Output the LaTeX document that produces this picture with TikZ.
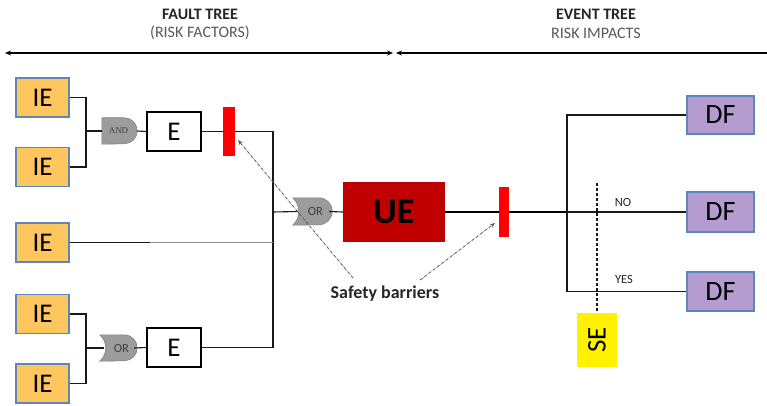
\documentclass[tikz,border=0pt]{standalone}
\usepackage{fontspec}
\setmainfont{Carlito}
\newfontfamily\gateserif{Liberation Serif}
\usetikzlibrary{arrows.meta,calc}
\definecolor{ieorange}{HTML}{FFC65E}
\definecolor{boxblue}{HTML}{5E87B8}
\definecolor{dfpurple}{HTML}{B49BD0}
\definecolor{uered}{HTML}{C00000}
\definecolor{gategray}{HTML}{9C9C9C}
\definecolor{gateedge}{HTML}{7F7F7F}
\definecolor{subgray}{HTML}{595959}
\tikzset{
  iebox/.style={draw=boxblue, line width=1.1pt, fill=ieorange, minimum width=53pt, minimum height=39pt, inner sep=0pt, font=\fontsize{27}{27}\selectfont},
  ebox/.style={draw=black, line width=1.1pt, fill=white, minimum width=54pt, minimum height=39pt, inner sep=0pt, font=\fontsize{27}{27}\selectfont},
  dfbox/.style={draw=boxblue, line width=1.1pt, fill=dfpurple, minimum width=67pt, minimum height=39pt, inner sep=0pt, font=\fontsize{28}{28}\selectfont},
  uebox/.style={fill=uered, minimum width=102pt, minimum height=60pt, inner sep=0pt, font=\fontsize{36}{36}\selectfont\bfseries},
  sebox/.style={fill=yellow, minimum width=40pt, minimum height=54pt, inner sep=0pt},
  redbar/.style={fill=red, inner sep=0pt},
  gatenode/.style={inner sep=0pt, minimum height=26pt, text=black!75},
  gateshape/.style={fill=gategray, draw=gateedge, line width=0.6pt},
  conn/.style={line width=1.1pt, black!90},
  thickconn/.style={line width=2.4pt, black},
  headarrow/.style={line width=1.5pt, {Stealth[length=6pt,width=5pt]}-{Stealth[length=6pt,width=5pt]}},
  headarrowl/.style={line width=1.5pt, {Stealth[length=6pt,width=5pt]}-},
  barrier/.style={densely dashdotted, line width=0.8pt, black!65, -{Stealth[length=5pt,width=4pt]}},
  headtitle/.style={font=\fontsize{16}{16}\selectfont\bfseries, text=black!85},
  headsub/.style={font=\fontsize{16}{16}\selectfont, text=subgray},
  branchlabel/.style={font=\fontsize{12.5}{12.5}\selectfont, text=black!85},
}
\begin{document}
\begin{tikzpicture}[x=1pt,y=1pt]
\useasboundingbox (0,0) rectangle (767,-406);
\fill[white] (0,0) rectangle (767,-406);

% headers
\node[headtitle] (ft) at (200,-14) {FAULT TREE};
\node[headsub] (rf) at (200,-33) {(RISK FACTORS)};
\node[headtitle] (et) at (596,-14) {EVENT TREE};
\node[headsub] (ri) at (596,-33) {RISK IMPACTS};
\coordinate (ha1) at (5,-53);
\coordinate (ha2) at (393,-53);
\coordinate (hb1) at (396,-53);
\coordinate (hb2) at (767,-53);
\draw[headarrow] (ha1) -- (ha2);
\draw[headarrowl] (hb1) -- (hb2);

% initiating events
\node[iebox] (ie1) at (42.5,-97.5) {IE};
\node[iebox] (ie2) at (42.5,-167) {IE};
\node[iebox] (ie3) at (42.5,-242.5) {IE};
\node[iebox] (ie4) at (42.5,-314) {IE};
\node[iebox] (ie5) at (42.5,-383.5) {IE};

% AND gate
\node[gatenode, minimum width=35pt] (and) at (119.5,-131) {};
\fill[gateshape] (and.north west) -- ([xshift=-13pt]and.north east) arc[start angle=90,end angle=-90,radius=13pt] -- (and.south west) -- cycle;
\node[gatenode, font=\gateserif\fontsize{9}{9}\selectfont] at ([xshift=-1pt]and.center) {AND};

% lower OR gate
\node[gatenode, minimum width=37pt] (or2) at (118.5,-348) {};
\fill[gateshape] (or2.north west) -- ([xshift=-13pt]or2.north east) arc[start angle=90,end angle=-90,radius=13pt] -- (or2.south west) .. controls ($(or2.west)+(8pt,-6pt)$) and ($(or2.west)+(8pt,6pt)$) .. (or2.north west) -- cycle;
\node[gatenode, font=\fontsize{12.5}{12.5}\selectfont] at ([xshift=3pt]or2.center) {OR};

% main OR gate
\node[gatenode, minimum width=39pt, minimum height=27pt] (or1) at (312.5,-211.5) {};
\fill[gateshape] (or1.north west) -- ([xshift=-13.5pt]or1.north east) arc[start angle=90,end angle=-90,radius=13.5pt] -- (or1.south west) .. controls ($(or1.west)+(8pt,-6pt)$) and ($(or1.west)+(8pt,6pt)$) .. (or1.north west) -- cycle;
\node[gatenode, font=\fontsize{12.5}{12.5}\selectfont] at ([xshift=3pt]or1.center) {OR};

% intermediate events
\node[ebox] (e1) at (174,-131.5) {E};
\node[ebox] (e2) at (174,-347.5) {E};

% barriers
\node[redbar, minimum width=12pt, minimum height=49pt] (bar1) at (229,-131.5) {};
\node[redbar, minimum width=10pt, minimum height=50pt] (bar2) at (504,-212) {};

% undesired event
\node[uebox] (ue) at (394,-212) {UE};

% final
\node[dfbox, minimum height=38pt] (df1) at (720.5,-115) {DF};
\node[dfbox, minimum height=40pt] (df2) at (720.5,-212) {DF};
\node[dfbox] (df3) at (720.5,-291.5) {DF};

% safety element
\node[sebox] (se) at (597,-340) {\rotatebox{90}{\fontsize{27}{27}\selectfont SE}};

% junctions
\coordinate (j1) at (86,-131);
\coordinate (j2) at (86,-348);
\coordinate (jt) at (273,-212);
\coordinate (g3) at (150,-242.5);
\coordinate (v3) at (273,-242.5);
\coordinate (jr) at (567,-212);
\coordinate (sed) at (597,-183);

% fault tree connectors
\draw[conn] (ie1.east) -| (j1);
\draw[conn] (ie2.east) -| (j1);
\draw[conn] (j1) -- (and.west);
\draw[conn] (and.east) -- (e1.west);
\draw[conn] (e1.east) -- (bar1.west);
\draw[conn] (bar1.east) -| (jt);
\draw[conn] (ie4.east) -| (j2);
\draw[conn] (ie5.east) -| (j2);
\draw[conn] (j2) -- ([xshift=4pt]or2.west);
\draw[conn] ([xshift=-3pt]or2.east) -- (e2.west);
\draw[conn] (e2.east) -| (jt);
\draw[conn] (ie3.east) -- (g3);
\draw[line width=1.1pt, black!45] (g3) -- (v3);
\draw[conn] (jt) -- ([xshift=5pt]or1.west);
\draw[conn] ([xshift=-3pt]or1.east) -- (ue.west);

% event tree connectors
\draw[thickconn] (ue.east) -- (bar2.west);
\draw[thickconn] (bar2.east) -- (jr);
\draw[conn] (jr) |- (df1.west);
\draw[conn] (jr) -- (df2.west);
\draw[conn] (jr) |- (df3.west);
\draw[conn, densely dashed] (sed) -- (se.north);

\node[branchlabel] (no) at (623,-202) {NO};
\node[branchlabel] (yes) at (624,-279) {YES};

% safety barriers label
\node[font=\fontsize{18}{18}\selectfont\bfseries, text=black!85] (sb) at (385,-294) {Safety barriers};
\coordinate (sbl) at (353,-278);
\coordinate (sbr) at (420,-280);
\coordinate (b1tip) at (238,-140);
\coordinate (b2tip) at (495,-223);
\draw[barrier] (sbl) -- (b1tip);
\draw[barrier] (sbr) -- (b2tip);
\end{tikzpicture}
\end{document}
